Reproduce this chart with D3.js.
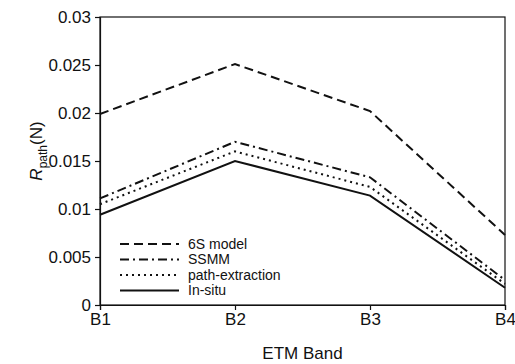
<!DOCTYPE html>
<html>
<head>
<meta charset="utf-8">
<script src="https://cdn.jsdelivr.net/npm/d3@7"></script>
<style>
  body { margin: 0; background: #fff; }
  text { font-family: "Liberation Sans", Arial, sans-serif; fill: #111; }
</style>
</head>
<body>
<div id="chart"></div>
<script>
// Data
const bands = ["B1", "B2", "B3", "B4"];
const model6S = [0.0199, 0.0251, 0.0202, 0.0073];
const ssmm = [0.0111, 0.0170, 0.0133, 0.0026];
const pathExtraction = [0.0105, 0.0160, 0.0123, 0.0022];
const inSitu = [0.0094, 0.0150, 0.0114, 0.0018];
const yTicks = [0, 0.005, 0.01, 0.015, 0.02, 0.025, 0.03];

const series = [
    { name: "6S model", values: model6S, dash: "9,5" },
    { name: "SSMM", values: ssmm, dash: "9,4,2,4" },
    { name: "path-extraction", values: pathExtraction, dash: "2,4" },
    { name: "In-situ", values: inSitu, dash: null }
];

const margin = { top: 17, right: 10, bottom: 59, left: 100 };
const width = 515 - margin.left - margin.right;
const height = 364 - margin.top - margin.bottom;

const svg = d3.select("#chart")
    .append("svg")
    .attr("width", 515)
    .attr("height", 364)
    .append("g")
    .attr("transform", "translate(" + margin.left + "," + margin.top + ")");

const x = d3.scalePoint()
    .domain(bands)
    .range([0, width]);

const y = d3.scaleLinear()
    .domain([0, 0.03])
    .range([height, 0]);

// Frame
svg.append("rect")
    .attr("width", width)
    .attr("height", height)
    .attr("fill", "none")
    .attr("stroke", "#111")
    .attr("stroke-width", 1.2);

// Axes
const yAxis = svg.append("g")
    .call(d3.axisLeft(y).tickValues(yTicks).tickSize(5).tickPadding(4)
        .tickFormat(d => d3.format("")(+d.toFixed(3))));
yAxis.selectAll("text").style("font-size", "17px");

const xAxis = svg.append("g")
    .attr("transform", "translate(0," + height + ")")
    .call(d3.axisBottom(x).tickSize(5).tickPadding(3));
xAxis.selectAll("text").style("font-size", "17px");

[yAxis, xAxis].forEach(a => {
    a.select(".domain").attr("stroke", "#111").attr("stroke-width", 1.2);
    a.selectAll(".tick line").attr("stroke", "#111").attr("stroke-width", 1.2);
});

// Axis labels
svg.append("text")
    .attr("x", width / 2)
    .attr("y", height + 54)
    .style("text-anchor", "middle")
    .style("font-size", "17px")
    .text("ETM Band");

const ylab = svg.append("text")
    .attr("transform", "translate(" + (-58) + "," + (height / 2 - 10) + ") rotate(-90)")
    .style("text-anchor", "middle")
    .style("font-size", "17px");
ylab.append("tspan").style("font-style", "italic").text("R");
ylab.append("tspan").attr("dy", 5).style("font-size", "12px").text("path");
ylab.append("tspan").attr("dy", -5).text("(N)");

// Lines
const line = d3.line()
    .x((d, i) => x(bands[i]))
    .y(d => y(d));

series.forEach(s => {
    svg.append("path")
        .datum(s.values)
        .attr("d", line)
        .attr("fill", "none")
        .attr("stroke", "#111")
        .attr("stroke-width", 2)
        .attr("stroke-dasharray", s.dash);
});

// Legend
const legend = svg.append("g")
    .attr("transform", "translate(20, 227)");

series.forEach((s, i) => {
    legend.append("line")
        .attr("x1", 0)
        .attr("x2", 59)
        .attr("y1", i * 15.5)
        .attr("y2", i * 15.5)
        .attr("stroke", "#111")
        .attr("stroke-width", 2)
        .attr("stroke-dasharray", s.dash);
    legend.append("text")
        .attr("x", 68)
        .attr("y", i * 15.5)
        .attr("dy", "0.35em")
        .style("font-size", "14px")
        .text(s.name);
});
</script>
</body>
</html>
